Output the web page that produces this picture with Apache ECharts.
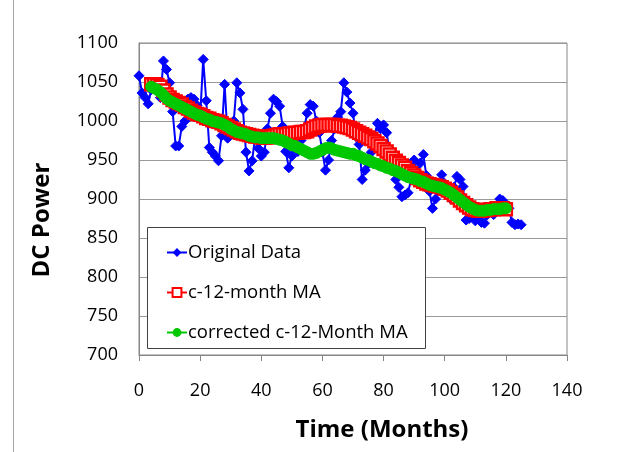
<!DOCTYPE html>
<html>
<head>
<meta charset="utf-8">
<script src="https://cdn.jsdelivr.net/npm/echarts@6/dist/echarts.min.js"></script>
<style>
  html, body { margin: 0; padding: 0; background: #fff; }
  #chart { width: 633px; height: 452px; }
</style>
</head>
<body>
<div id="chart"></div>
<script>
// Monthly DC power readings
var origStartMonth = 0;
var origValues = [
  1058,1036,1030,1022,1040,1050,1045,1030,1077,1066,
  1049,1012,968,968,993,1000,1028,1030,1028,1020,
  1005,1079,1026,966,960,955,949,981,1047,978,
  990,1000,1049,1036,1015,960,936,949,980,965,
  955,960,990,1010,1028,1025,1019,993,961,940,
  955,970,961,975,990,1010,1021,1019,1000,985,
  960,937,950,975,990,1005,1012,1049,1037,1023,
  1010,980,970,925,937,945,960,980,997,990,
  995,985,960,945,925,915,903,905,908,925,
  950,935,946,957,930,910,888,900,915,931,
  920,910,900,915,929,925,916,873,875,880,
  872,875,870,869,880,885,880,890,900,898,
  885,888,870,867,868,867
];

// Centered 12-month moving average
var maStartMonth = 4;
var maValues = [
  1047,1047,1046,1044,1039,1034,1030,1027,1025,1023,
  1021,1018,1016,1013,1011,1009,1008,1006,1004,1003,
  1001,1000,999,997,995,993,991,989,987,985,
  984,983,982,981,980,980,979,979,979,980,
  981,982,983,983,983,984,984,985,985,986,
  986,987,989,991,993,994,995,995,995,995,
  995,994,994,993,992,991,989,987,985,983,
  981,979,977,974,971,968,964,961,957,953,
  949,946,943,940,936,933,930,927,924,922,
  920,919,918,917,916,915,913,911,908,905,
  902,898,895,892,889,887,886,885,885,886,
  886,887,887,888,888,888,887
];

// Corrected centered 12-month moving average
var corrValues = [
  1044,1042,1040,1037,1033,1029,1026,1024,1022,1020,
  1018,1016,1014,1012,1010,1008,1007,1005,1003,1002,
  1000,999,998,997,995,993,990,988,986,985,
  984,983,981,980,979,979,978,978,978,978,
  978,977,976,975,973,971,969,968,966,964,
  962,960,958,958,959,961,963,965,966,965,
  963,962,961,960,959,958,958,956,955,953,
  951,950,948,946,945,943,942,940,939,937,
  936,934,932,930,928,927,926,925,923,922,
  920,918,917,916,915,914,912,910,908,905,
  902,899,896,893,890,888,886,885,885,885,
  886,886,887,887,887,888,888
];

var xTicks = [0, 20, 40, 60, 80, 100, 120, 140];
var yTicks = [700, 750, 800, 850, 900, 950, 1000, 1050, 1100];
var seriesNames = ['Original Data', 'c-12-month MA', 'corrected c-12-Month MA'];

function pairs(start, vals) {
  return vals.map(function (v, i) { return [start + i, v]; });
}

var FONT = '"Open Sans", "Noto Sans", sans-serif';
var chart = echarts.init(document.getElementById('chart'), null, { renderer: 'canvas' });

chart.setOption({
  animation: false,
  backgroundColor: '#ffffff',
  grid: {
    left: 139, top: 43, right: 66, bottom: 97,
    show: true, borderColor: '#868686', borderWidth: 1, backgroundColor: 'transparent'
  },
  xAxis: {
    type: 'value',
    min: xTicks[0], max: xTicks[xTicks.length - 1], interval: 20,
    axisLine: { show: true, lineStyle: { color: '#868686', width: 1 } },
    axisTick: { show: true, inside: false, length: 6, lineStyle: { color: '#868686' } },
    splitLine: { show: false },
    axisLabel: { color: '#000', fontFamily: FONT, fontSize: 18, margin: 27,
      formatter: function (v) { return String(v); } }
  },
  yAxis: {
    type: 'value',
    min: yTicks[0], max: yTicks[yTicks.length - 1], interval: 50,
    axisLine: { show: true, lineStyle: { color: '#868686', width: 1 } },
    axisTick: { show: false },
    splitLine: { show: true, lineStyle: { color: '#9a9a9a', width: 1 } },
    axisLabel: { color: '#000', fontFamily: FONT, fontSize: 18, margin: 21,
      formatter: function (v) { return String(v); } }
  },
  legend: {
    orient: 'vertical',
    left: 161, top: 238,
    z: 10,
    itemWidth: 20, itemHeight: 11,
    itemGap: 21,
    textStyle: { color: '#000', fontFamily: FONT, fontSize: 18.5, padding: [0, 0, 0, -4] },
    data: seriesNames
  },
  graphic: [
    {
      type: 'line', z: 0,
      shape: { x1: 13.5, y1: 0, x2: 13.5, y2: 452 },
      style: { stroke: '#a6a6a6', lineWidth: 1 }
    },
    {
      type: 'rect', z: 9,
      shape: { x: 147.5, y: 227.5, width: 278, height: 121 },
      style: { fill: '#ffffff', stroke: '#404040', lineWidth: 1 }
    },
    {
      type: 'text', z: 10,
      x: 42, y: 220, rotation: Math.PI / 2,
      style: {
        text: 'DC Power', fill: '#000', font: 'bold 24px ' + FONT,
        textAlign: 'center', textVerticalAlign: 'middle'
      }
    },
    {
      type: 'text', z: 10,
      x: 382, y: 430,
      style: {
        text: 'Time (Months)', fill: '#000', font: 'bold 24px ' + FONT,
        textAlign: 'center', textVerticalAlign: 'middle'
      }
    }
  ],
  series: [
    {
      name: seriesNames[0], type: 'line',
      data: pairs(origStartMonth, origValues),
      symbol: 'diamond', symbolSize: 10, showAllSymbol: true,
      lineStyle: { color: '#0000ff', width: 2 },
      itemStyle: { color: '#0000ff', borderColor: '#0000ff' },
      z: 2
    },
    {
      name: seriesNames[1], type: 'line',
      data: pairs(maStartMonth, maValues),
      symbol: 'rect', symbolSize: 12, showAllSymbol: true,
      lineStyle: { color: '#ff0000', width: 2 },
      itemStyle: { color: '#ffffff', borderColor: '#ff0000', borderWidth: 2.5 },
      z: 3
    },
    {
      name: seriesNames[2], type: 'line',
      data: pairs(maStartMonth, corrValues),
      symbol: 'circle', symbolSize: 11, showAllSymbol: true,
      lineStyle: { color: '#00c800', width: 3 },
      itemStyle: { color: '#00c800', borderColor: '#00c800' },
      z: 4
    }
  ]
});
</script>
</body>
</html>
